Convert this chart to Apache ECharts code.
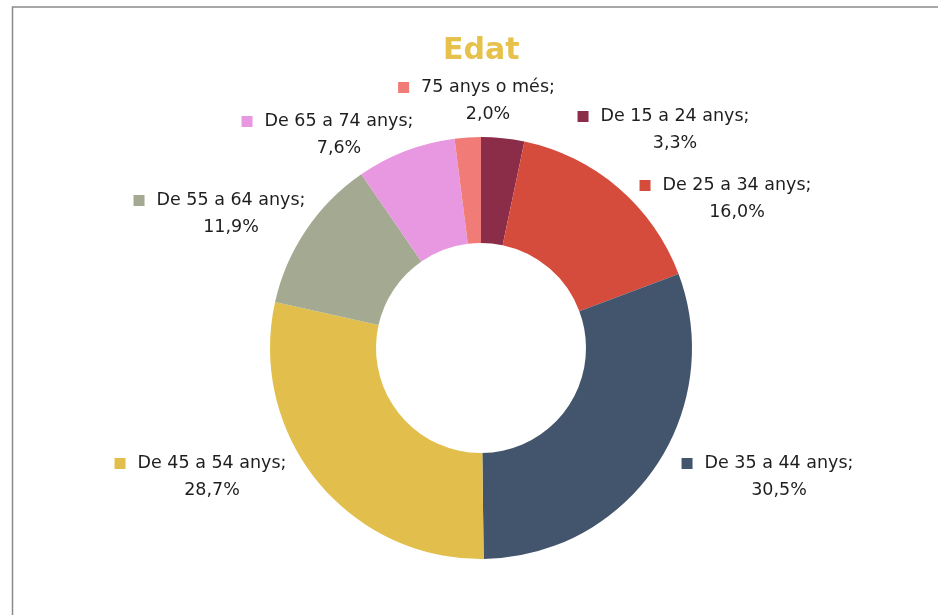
<!DOCTYPE html>
<html>
<head>
<meta charset="utf-8">
<title>Edat</title>
<script src="https://cdn.jsdelivr.net/npm/echarts@6/dist/echarts.min.js"></script>
<style>
  html, body { margin: 0; padding: 0; background: #fff; }
  #chart { width: 938px; height: 615px; }
</style>
</head>
<body>
<div id="chart"></div>
<script>
// age groups, clockwise from 12 o'clock
const categories = ['De 15 a 24 anys', 'De 25 a 34 anys', 'De 35 a 44 anys', 'De 45 a 54 anys',
  'De 55 a 64 anys', 'De 65 a 74 anys', '75 anys o més']
const percentages = [3.3, 16.0, 30.5, 28.7, 11.9, 7.6, 2.0]
const colors = ['#8B2C48', '#D64C3C', '#43546D', '#E2BF4C', '#A3AA91', '#E898E0', '#F07B77']

// where each label block sits (centre of the text part)
const labelPos = [
  [675, 130], [737, 199], [779, 477], [212, 477], [231, 214], [339, 135], [488, 101]
]

const chart = echarts.init(document.getElementById('chart'))

const rich = {
  t: { fontFamily: 'DejaVu Sans', fontSize: 17.5, lineHeight: 27, color: '#1e1e1e' },
  gap: { width: 12 },
  pad: { width: 23 }
}
colors.forEach((c, i) => {
  rich['sq' + i] = { backgroundColor: c, width: 11, height: 11 }
})

chart.setOption({
  animation: false,
  title: {
    text: 'Edat',
    left: 438,
    top: 31,
    textStyle: {
      fontFamily: 'DejaVu Sans',
      fontSize: 30,
      fontWeight: 'bold',
      color: '#E6C14B'
    }
  },
  graphic: [
    {
      type: 'rect',
      shape: { x: 12.5, y: 7, width: 2000, height: 2000 },
      style: { fill: 'none', stroke: '#8a8a8a', lineWidth: 1.5 },
      silent: true
    }
  ],
  series: [
    {
      type: 'pie',
      center: [481, 348],
      radius: [105, 211],
      startAngle: 90,
      clockwise: true,
      avoidLabelOverlap: false,
      color: colors,
      itemStyle: { borderWidth: 0 },
      emphasis: { scale: false },
      labelLine: { show: false },
      label: {
        show: true,
        position: 'outside',
        formatter: p => {
          const v = p.value.toFixed(1).replace('.', ',')
          return '{sq' + p.dataIndex + '| }{gap| }{t|' + p.name + ';}{pad| }\n{t|' + v + '%}'
        },
        rich: rich
      },
      labelLayout: params => {
        const pos = labelPos[params.dataIndex]
        return { x: pos[0], y: pos[1], align: 'center', verticalAlign: 'middle' }
      },
      data: categories.map((name, i) => ({ name: name, value: percentages[i] }))
    }
  ]
})
</script>
</body>
</html>
